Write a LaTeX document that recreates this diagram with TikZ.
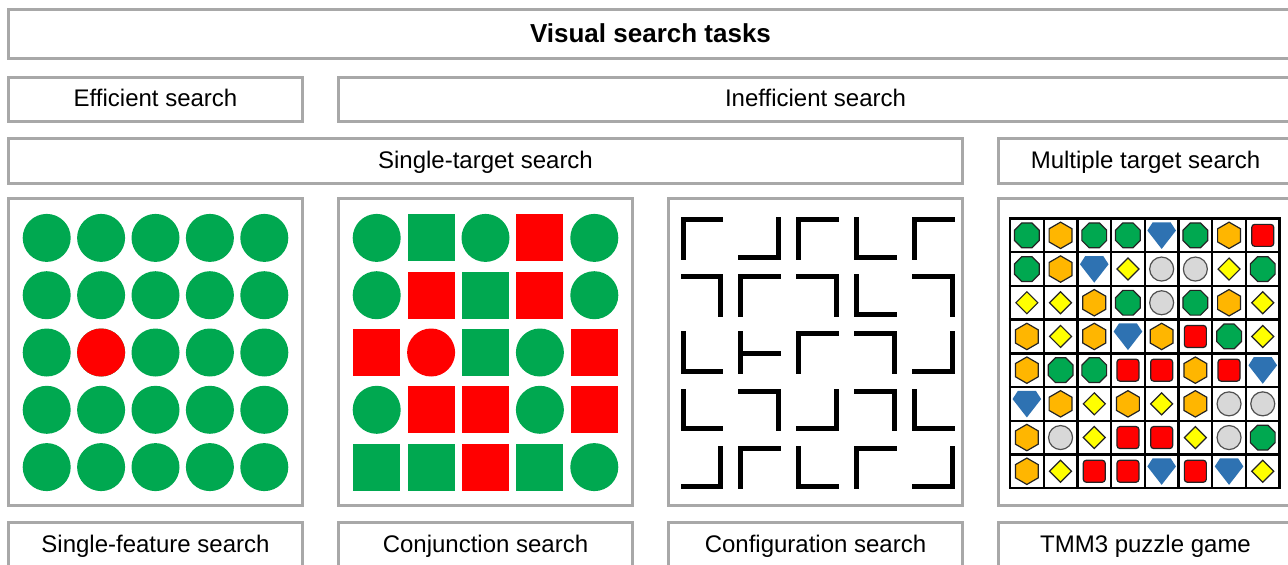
\documentclass[tikz,border=0pt]{standalone}
\usepackage{fontspec}
\setmainfont{Liberation Sans}
\definecolor{boxgray}{RGB}{168,168,168}
\definecolor{dotgreen}{RGB}{0,168,80}
\definecolor{dotred}{RGB}{255,0,0}
\definecolor{hexor}{RGB}{255,182,0}
\definecolor{diayel}{RGB}{255,255,0}
\definecolor{cirgray}{RGB}{216,216,216}
\definecolor{gemblue}{RGB}{46,114,178}
\definecolor{outl}{RGB}{35,35,35}
\definecolor{cirout}{RGB}{80,80,80}
\newcommand\LsH{21.4}
\newcommand\LsW{5}
% L-shaped corner figures (image coordinates, y downwards)
\newcommand\LsTL[2]{\fill ({#1-\LsH},{#2-\LsH}) rectangle ({#1+\LsH},{#2-\LsH+\LsW});
  \fill ({#1-\LsH},{#2-\LsH}) rectangle ({#1-\LsH+\LsW},{#2+\LsH});}
\newcommand\LsTR[2]{\fill ({#1-\LsH},{#2-\LsH}) rectangle ({#1+\LsH},{#2-\LsH+\LsW});
  \fill ({#1+\LsH-\LsW},{#2-\LsH}) rectangle ({#1+\LsH},{#2+\LsH});}
\newcommand\LsBL[2]{\fill ({#1-\LsH},{#2-\LsH}) rectangle ({#1-\LsH+\LsW},{#2+\LsH});
  \fill ({#1-\LsH},{#2+\LsH-\LsW}) rectangle ({#1+\LsH},{#2+\LsH});}
\newcommand\LsBR[2]{\fill ({#1+\LsH-\LsW},{#2-\LsH}) rectangle ({#1+\LsH},{#2+\LsH});
  \fill ({#1-\LsH},{#2+\LsH-\LsW}) rectangle ({#1+\LsH},{#2+\LsH});}
\newcommand\LsT[2]{\fill ({#1-\LsH},{#2-\LsH}) rectangle ({#1-\LsH+\LsW},{#2+\LsH});
  \fill ({#1-\LsH},{#2+1-\LsW/2}) rectangle ({#1+\LsH},{#2+1+\LsW/2});}
% conjunction items
\newcommand\cjCg[2]{\fill[dotgreen] (#1,#2) circle[radius=24pt];}
\newcommand\cjCr[2]{\fill[dotred] (#1,#2) circle[radius=24pt];}
\newcommand\cjSg[2]{\fill[dotgreen] ({#1-23.5},{#2-23.5}) rectangle ({#1+23.5},{#2+23.5});}
\newcommand\cjSr[2]{\fill[dotred] ({#1-23.5},{#2-23.5}) rectangle ({#1+23.5},{#2+23.5});}
% TMM3 pieces
\newcommand\tmO[2]{\filldraw[fill=dotgreen,draw=outl,line width=1.2pt,shift={(#1,#2)}]
  (22.5:13.4) -- (67.5:13.4) -- (112.5:13.4) -- (157.5:13.4) -- (202.5:13.4) -- (247.5:13.4) -- (292.5:13.4) -- (337.5:13.4) -- cycle;}
\newcommand\tmH[2]{\filldraw[fill=hexor,draw=outl,line width=1.2pt,shift={(#1,#2)}]
  (90:13.2) -- (150:13.2) -- (210:13.2) -- (270:13.2) -- (330:13.2) -- (30:13.2) -- cycle;}
\newcommand\tmD[2]{\filldraw[fill=diayel,draw=outl,line width=1.2pt,shift={(#1,#2)}]
  (0,-11) -- (11,0) -- (0,11) -- (-11,0) -- cycle;}
\newcommand\tmC[2]{\filldraw[fill=cirgray,draw=cirout,line width=1.2pt] (#1,#2) circle[radius=12pt];}
\newcommand\tmR[2]{\filldraw[fill=dotred,draw=outl,line width=1.2pt,rounded corners=3pt,shift={(#1,#2)}]
  (-11,-11) rectangle (11,11);}
\newcommand\tmG[2]{\fill[gemblue,shift={(#1,#2)}]
  (-9,-13) -- (9,-13) -- (14.3,-4.8) -- (0,13.6) -- (-14.3,-4.8) -- cycle;}
\begin{document}
\begin{tikzpicture}[x=1pt,y=-1pt,
  box/.style={draw=boxgray,line width=3pt,inner sep=0pt,
    font=\fontsize{24}{28}\selectfont,text height=18pt,text depth=4pt},
  gridline/.style={draw=black,line width=2.4pt}]
\clip (0,0) rectangle (1288,565);
\fill[white] (0,0) rectangle (1288,565);
% header boxes
\node[box,minimum width=1284,minimum height=49,
  font=\fontsize{26}{30}\selectfont\bfseries,text height=21pt] (vst) at (650.5,34) {Visual search tasks};
\node[box,minimum width=294,minimum height=44] (eff) at (155.5,99.5) {Efficient search};
\node[box,minimum width=954,minimum height=44] (ineff) at (815.5,99.5) {Inefficient search};
\node[box,minimum width=954,minimum height=45] (single) at (485.5,161) {Single-target search};
\node[box,minimum width=294,minimum height=45] (multi) at (1145.5,161) {Multiple target search};
% panels
\node[box,minimum width=294,minimum height=306.5] (p1) at (155.5,351.75) {};
\node[box,minimum width=294,minimum height=306.5] (p2) at (485.5,351.75) {};
\node[box,minimum width=294,minimum height=306.5] (p3) at (815.5,351.75) {};
\node[box,minimum width=294,minimum height=306.5] (p4) at (1145.5,351.75) {};
% bottom labels
\node[box,minimum width=294,minimum height=46] (l1) at (155.5,545.5) {Single-feature search};
\node[box,minimum width=294,minimum height=46] (l2) at (485.5,545.5) {Conjunction search};
\node[box,minimum width=294,minimum height=46] (l3) at (815.5,545.5) {Configuration search};
\node[box,minimum width=294,minimum height=46] (l4) at (1145.5,545.5) {TMM3 puzzle game};
% panel 1: single feature
\foreach \i in {0,...,4}{
  \foreach \j in {0,...,4}{
    \fill[dotgreen] ({155.5+54.4*(\i-2)},{352.5+57.3*(\j-2)}) circle[radius=24pt];
  }
}
\fill[dotred] ({155.5-54.4},352.5) circle[radius=24pt];
% panel 2: conjunction
\foreach \m [count=\k from 0] in {\cjCg,\cjSg,\cjCg,\cjSr,\cjCg,
  \cjCg,\cjSr,\cjSg,\cjSr,\cjCg,
  \cjSr,\cjCr,\cjSg,\cjCg,\cjSr,
  \cjCg,\cjSr,\cjSr,\cjCg,\cjSr,
  \cjSg,\cjSg,\cjSr,\cjSg,\cjCg}{
  \pgfmathtruncatemacro\cc{mod(\k,5)}
  \pgfmathtruncatemacro\rr{floor(\k/5)}
  \pgfmathsetmacro\cx{485.5+54.4*(\cc-2)}
  \pgfmathsetmacro\cy{352.5+57.3*(\rr-2)}
  \m{\cx}{\cy}
}
% panel 3: configuration
\foreach \m [count=\k from 0] in {\LsTL,\LsBR,\LsTL,\LsBL,\LsTL,
  \LsTR,\LsTL,\LsTR,\LsBL,\LsTR,
  \LsBL,\LsT,\LsTL,\LsTR,\LsBR,
  \LsBL,\LsTR,\LsBR,\LsTR,\LsBL,
  \LsBR,\LsTL,\LsBL,\LsTL,\LsBR}{
  \pgfmathtruncatemacro\cc{mod(\k,5)}
  \pgfmathtruncatemacro\rr{floor(\k/5)}
  \pgfmathsetmacro\cx{817.5+57.8*(\cc-2)}
  \pgfmathsetmacro\cy{352.8+57.2*(\rr-2)}
  \m{\cx}{\cy}
}
% panel 4: TMM3
\fill[white] (1010,218.5) rectangle (1279.6,488.1);
\foreach \row [count=\j from 0] in {
  {\tmO,\tmH,\tmO,\tmO,\tmG,\tmO,\tmH,\tmR},
  {\tmO,\tmH,\tmG,\tmD,\tmC,\tmC,\tmD,\tmO},
  {\tmD,\tmD,\tmH,\tmO,\tmC,\tmO,\tmH,\tmD},
  {\tmH,\tmD,\tmH,\tmG,\tmH,\tmR,\tmO,\tmD},
  {\tmH,\tmO,\tmO,\tmR,\tmR,\tmH,\tmR,\tmG},
  {\tmG,\tmH,\tmD,\tmH,\tmD,\tmH,\tmC,\tmC},
  {\tmH,\tmC,\tmD,\tmR,\tmR,\tmD,\tmC,\tmO},
  {\tmH,\tmD,\tmR,\tmR,\tmG,\tmR,\tmG,\tmD}}{
  \foreach \m [count=\i from 0] in \row {
    \pgfmathsetmacro\cx{1010+33.7*(\i+0.5)}
    \pgfmathsetmacro\cy{218.5+33.7*(\j+0.5)}
    \m{\cx}{\cy}
  }
}
\foreach \k in {0,...,8}{
  \draw[gridline] ({1010+33.7*\k},217.3) -- ({1010+33.7*\k},489.3);
  \draw[gridline] (1008.8,{218.5+33.7*\k}) -- (1280.8,{218.5+33.7*\k});
}
\end{tikzpicture}
\end{document}
